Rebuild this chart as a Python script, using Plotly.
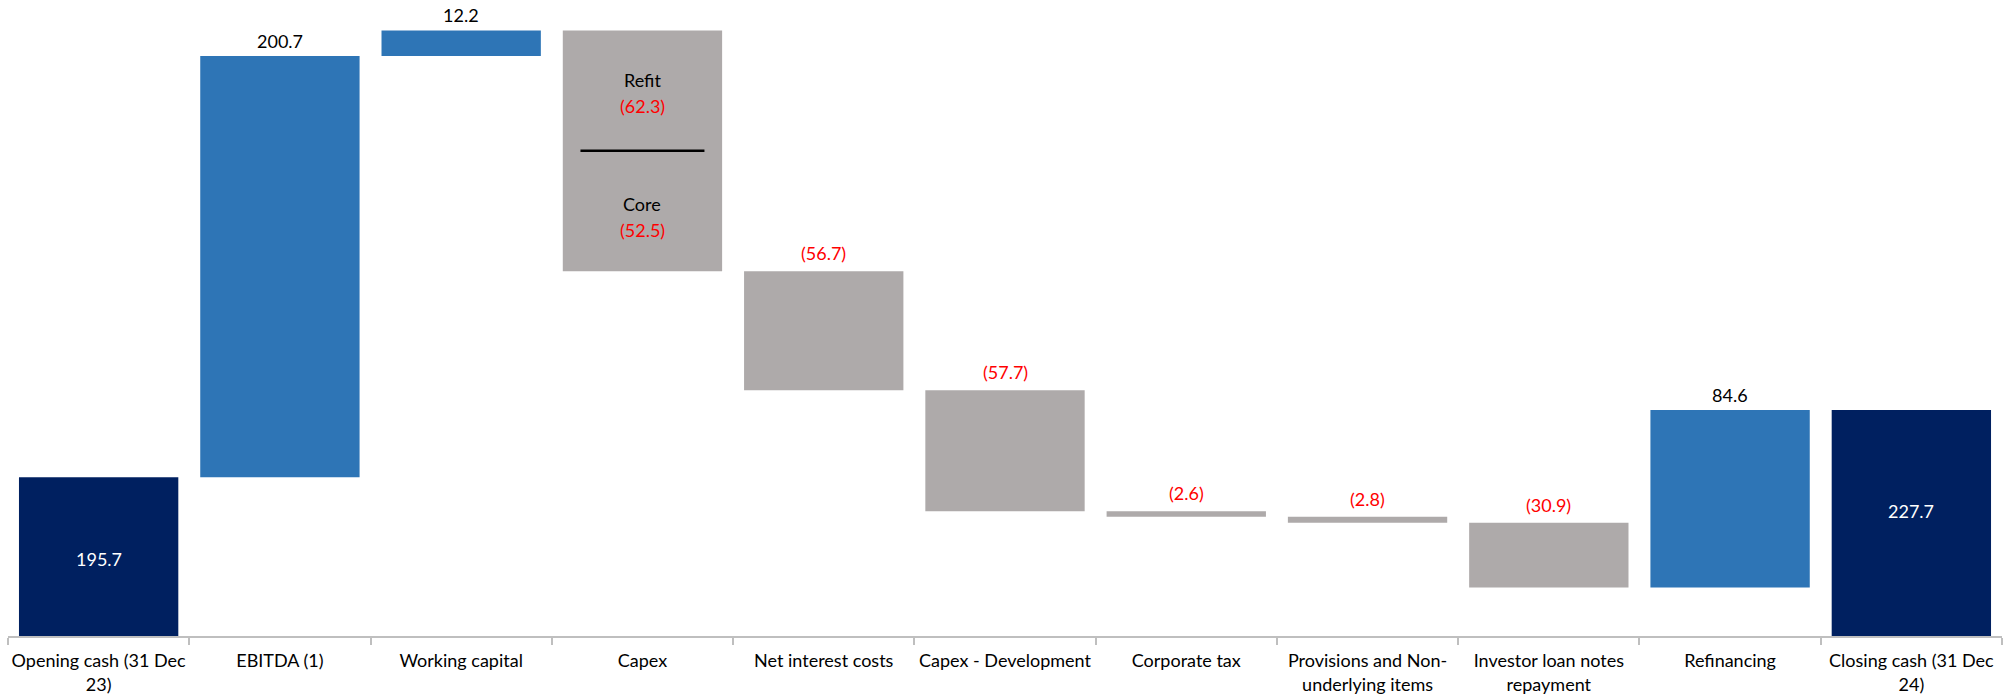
import numpy as np
import plotly.graph_objects as go

categories = [
    "Opening cash (31 Dec<br>23)",
    "EBITDA (1)",
    "Working capital",
    "Capex",
    "Net interest costs",
    "Capex - Development",
    "Corporate tax",
    "Provisions and Non-<br>underlying items",
    "Investor loan notes<br>repayment",
    "Refinancing",
    "Closing cash (31 Dec<br>24)",
]
capex_refit = -62.3
capex_core = -52.5
changes = [195.7, 200.7, 12.2, capex_refit + capex_core, -56.7, -57.7, -2.6, -2.8, -30.9, 84.6, 227.7]
measures = ["absolute", "relative", "relative", "relative", "relative", "relative",
            "relative", "relative", "relative", "relative", "total"]
AXIS_MIN = 120.0
AXIS_MAX = 423.1

NAVY = "#002060"
BLUE = "#2E75B6"
GREY = "#AEAAAA"
RED = "#FF0000"
FONT = "Lato"

bases, heights, colors = [], [], []
running = 0.0
for i, (v, m) in enumerate(zip(changes, measures)):
    if m == "absolute":
        running = v
        bases.append(0.0); heights.append(v); colors.append(NAVY)
    elif m == "total":
        bases.append(0.0); heights.append(running); colors.append(NAVY)
    else:
        new = running + v
        bases.append(min(running, new)); heights.append(abs(v))
        colors.append(BLUE if v > 0 else GREY)
        running = new

fig = go.Figure()
fig.add_trace(go.Bar(
    x=categories, y=heights, base=bases,
    marker=dict(color=colors, line=dict(width=0)),
    cliponaxis=True, hoverinfo="skip",
))

annotations = []
for i, (v, m) in enumerate(zip(changes, measures)):
    top = bases[i] + heights[i]
    if m in ("absolute", "total"):
        annotations.append(dict(x=categories[i], y=(AXIS_MIN + top) / 2, text=f"{top:.1f}",
                                yshift=12 if m == "total" else -2,
                                showarrow=False, font=dict(family=FONT, size=18, color="white")))
    elif categories[i] != "Capex":
        txt = f"{v:.1f}" if v > 0 else f"({abs(v):.1f})"
        annotations.append(dict(x=categories[i], y=top, yanchor="bottom", yshift=2 if v > 0 else 5,
                                text=txt, showarrow=False,
                                font=dict(family=FONT, size=18, color="black" if v > 0 else RED)))

# Capex split
ci = categories.index("Capex")
c_top = bases[ci] + heights[ci]
c_bot = bases[ci]
c_mid = (c_top + c_bot) / 2
refit_mid = (c_top + c_mid) / 2
core_mid = (c_mid + c_bot) / 2
for lbl, val, yc, shift in [("Refit", capex_refit, refit_mid, -2), ("Core", capex_core, core_mid, -6)]:
    annotations.append(dict(x=categories[ci], y=yc, yshift=shift + 13, text=lbl, showarrow=False,
                            font=dict(family=FONT, size=18, color="black")))
    annotations.append(dict(x=categories[ci], y=yc, yshift=shift - 13, text=f"({abs(val):.1f})",
                            showarrow=False, font=dict(family=FONT, size=18, color=RED)))

fig.add_shape(type="line", xref="x", yref="y", x0=ci - 0.342, x1=ci + 0.342, y0=c_mid, y1=c_mid,
              line=dict(color="black", width=2.5))

fig.update_layout(
    width=2007, height=695,
    margin=dict(l=8, r=5, t=0, b=59, autoexpand=False),
    paper_bgcolor="white", plot_bgcolor="white",
    bargap=0.121, showlegend=False,
    annotations=annotations,
    font=dict(family=FONT, size=18, color="black"),
    xaxis=dict(type="category", range=[-0.5, len(categories) - 0.5],
               showline=True, linecolor="#BFBFBF", linewidth=1.5,
               ticks="outside", tickson="boundaries", ticklen=7, tickcolor="#BFBFBF", tickwidth=1.5,
               ticklabelstandoff=8, tickangle=0, automargin=False,
               tickfont=dict(family=FONT, size=18, color="black"), showgrid=False, fixedrange=True),
    yaxis=dict(range=[AXIS_MIN, AXIS_MAX], visible=False, showgrid=False, zeroline=False, fixedrange=True),
)

fig.write_html("out.html", config={"displayModeBar": False})
